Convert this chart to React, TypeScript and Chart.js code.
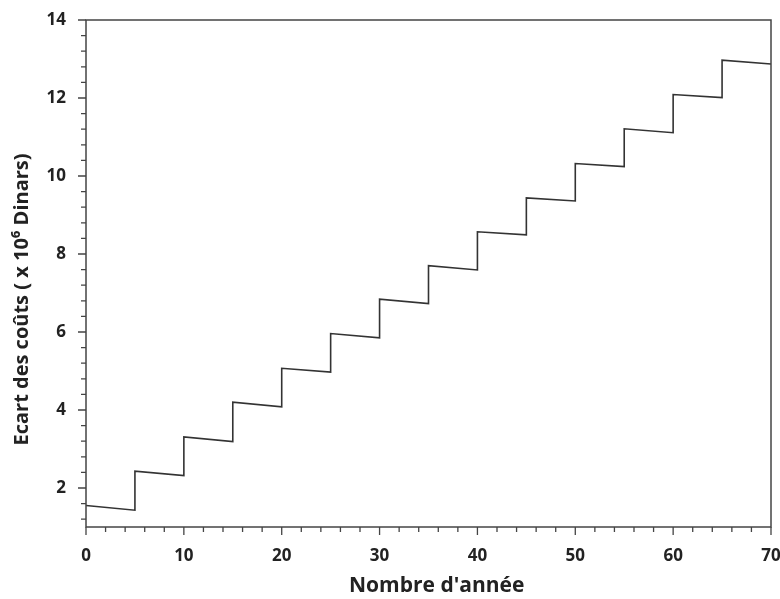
import React, { useEffect, useRef } from "react";
import { Chart, registerables } from "chart.js";

Chart.register(...registerables);

// Step start years and values at the start / end of each 5-year step
const stepYears = [0, 5, 10, 15, 20, 25, 30, 35, 40, 45, 50, 55, 60, 65];
const stepLength = 5;
const startValues = [1.55, 2.43, 3.31, 4.2, 5.07, 5.96, 6.84, 7.7, 8.57, 9.44, 10.32, 11.21, 12.09, 12.97];
const endValues = [1.43, 2.32, 3.19, 4.08, 4.97, 5.85, 6.73, 7.59, 8.49, 9.36, 10.24, 11.11, 12.01, 12.87];

const xTickLabels = [0, 10, 20, 30, 40, 50, 60, 70];
const yTickLabels = [2, 4, 6, 8, 10, 12, 14];

const FONT = "'Open Sans', 'DejaVu Sans', sans-serif";
const TEXT = "#222";
const AXIS = "#444";
const NB = "\u00A0";

const framePlugin = {
  id: "frameTicks",
  afterDraw(chart: any) {
    const { ctx, chartArea, scales } = chart;
    const x = scales.x;
    const y = scales.y;
    ctx.save();
    ctx.strokeStyle = AXIS;
    ctx.lineWidth = 1.5;
    ctx.strokeRect(chartArea.left, chartArea.top, chartArea.right - chartArea.left, chartArea.bottom - chartArea.top);
    ctx.lineWidth = 1.3;
    ctx.beginPath();
    for (let v = 0; v <= 70; v += 2) {
      const px = x.getPixelForValue(v);
      const len = v % 10 === 0 ? 8 : 5;
      ctx.moveTo(px, chartArea.bottom);
      ctx.lineTo(px, chartArea.bottom + len);
    }
    for (let i = 0; i <= 32; i++) {
      const v = 1.2 + i * 0.4;
      if (v > 14.001) break;
      const py = y.getPixelForValue(v);
      const major = Math.abs(v - Math.round(v)) < 0.01 && Math.round(v) % 2 === 0;
      const len = major ? 8 : 5;
      ctx.moveTo(chartArea.left, py);
      ctx.lineTo(chartArea.left - len, py);
    }
    ctx.stroke();
    ctx.restore();
  },
};

export default function App() {
  const ref = useRef<HTMLCanvasElement>(null);

  useEffect(() => {
    const points: { x: number; y: number }[] = [];
    stepYears.forEach((yr, i) => {
      points.push({ x: yr, y: startValues[i] });
      points.push({ x: yr + stepLength, y: endValues[i] });
    });

    const chart = new Chart(ref.current!, {
      type: "line",
      data: {
        datasets: [
          {
            data: points,
            borderColor: "#333",
            borderWidth: 1.6,
            pointRadius: 0,
            tension: 0,
            fill: false,
          },
        ],
      },
      options: {
        animation: false,
        responsive: false,
        maintainAspectRatio: false,
        layout: { padding: { left: 0, top: 20, right: 9, bottom: 0 } },
        plugins: { legend: { display: false }, tooltip: { enabled: false } },
        scales: {
          x: {
            type: "linear",
            min: 0,
            max: 70,
            afterFit: (s: any) => {
              s.height = 72;
              s.paddingLeft = 0;
              s.paddingRight = 0;
            },
            afterBuildTicks: (s: any) => {
              s.ticks = xTickLabels.map((v) => ({ value: v }));
            },
            grid: { display: false },
            border: { display: false },
            ticks: {
              padding: 11,
              maxRotation: 0,
              color: TEXT,
              font: { family: FONT, size: 17, weight: "bold" },
            },
            title: {
              display: true,
              text: NB.repeat(3) + "Nombre d'année",
              color: TEXT,
              font: { family: FONT, size: 21, weight: "bold" },
              padding: { top: 4, bottom: 0 },
            },
          },
          y: {
            type: "linear",
            min: 1,
            max: 14,
            afterFit: (s: any) => {
              s.width = 86;
              s.paddingTop = 0;
              s.paddingBottom = 0;
            },
            afterBuildTicks: (s: any) => {
              s.ticks = yTickLabels.map((v) => ({ value: v }));
            },
            grid: { display: false },
            border: { display: false },
            ticks: {
              padding: 12,
              color: TEXT,
              font: { family: FONT, size: 17, weight: "bold" },
            },
            title: {
              display: true,
              text: "Ecart des coûts ( x 10⁶ Dinars)" + NB.repeat(10),
              color: TEXT,
              font: { family: FONT, size: 20, weight: "bold" },
              padding: { top: 10, bottom: 4 },
            },
          },
        },
      },
      plugins: [framePlugin],
    });
    return () => chart.destroy();
  }, []);

  return (
    <div style={{ position: "fixed", left: 0, top: 0, width: 780, height: 599, background: "#fff" }}>
      <canvas ref={ref} width={780} height={599} style={{ display: "block" }} />
    </div>
  );
}
